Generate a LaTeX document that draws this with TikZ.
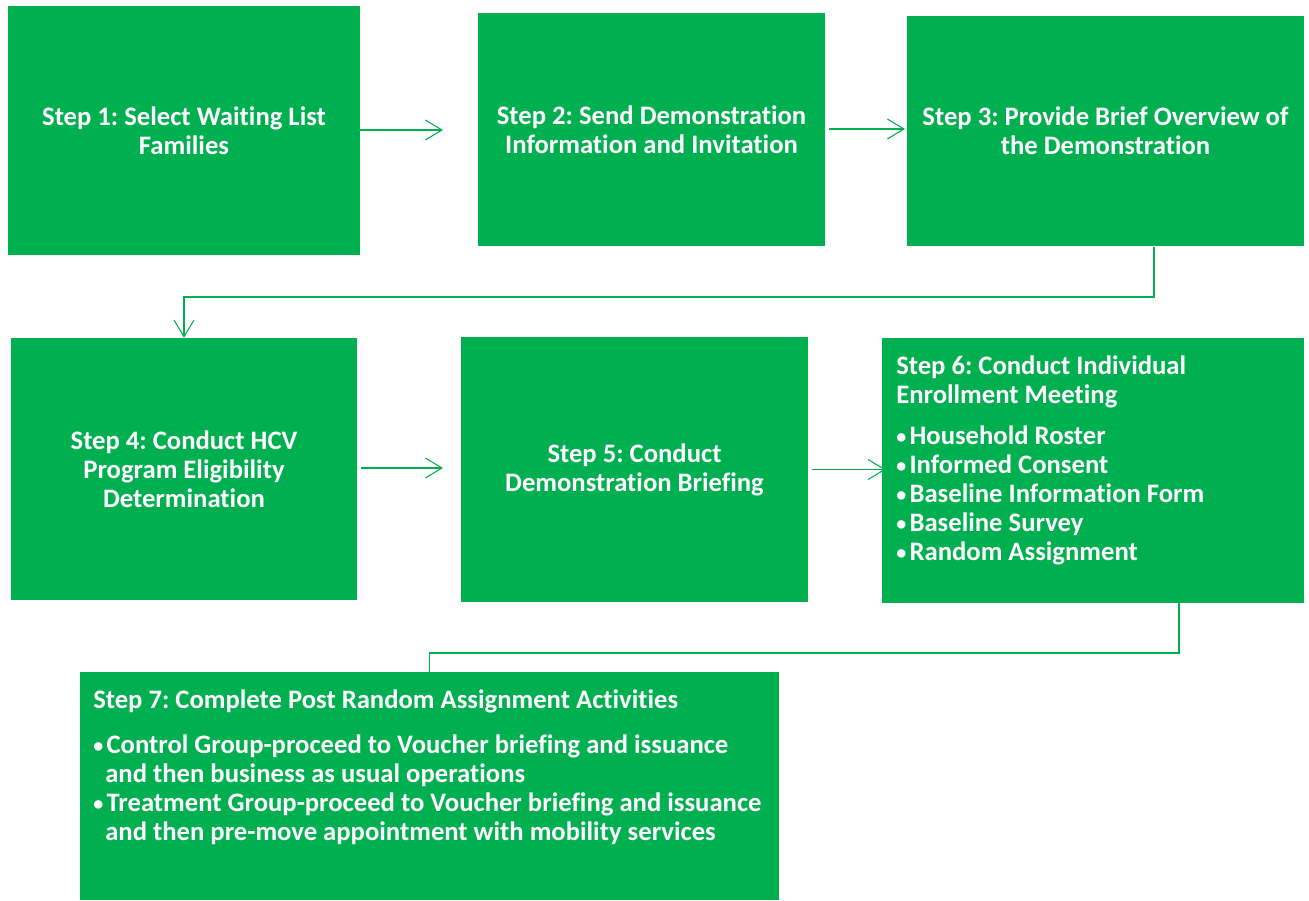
\documentclass[tikz,border=0pt]{standalone}
\usepackage{fontspec}
\setmainfont{Carlito}[Ligatures=NoCommon]
\frenchspacing
\usetikzlibrary{arrows.meta,fit}
\definecolor{stepgreen}{HTML}{00B050}
\pgfdeclarelayer{bg}
\pgfsetlayers{bg,main}
\newcommand\stepbul{\makebox[10pt][l]{\raisebox{0.5pt}{\fontsize{15}{15}\selectfont •}}}
\tikzset{
  stepbox/.style={fill=stepgreen, draw=none, inner sep=0pt},
  boxlabel/.style={text=white, font=\bfseries\fontsize{20}{21.75}\selectfont,
    align=center, inner sep=0pt},
  steptext/.style={text=white, font=\bfseries\fontsize{20}{21.75}\selectfont,
    align=left, inner sep=0pt, anchor=north west},
  flow/.style={draw=stepgreen, line width=0.8pt,
    -{Straight Barb[length=12.5pt,width=15pt,line width=0.8pt]}},
  flowline/.style={draw=stepgreen, line width=0.8pt}
}
\begin{document}
\begin{tikzpicture}[x=0.75pt,y=-0.75pt]
\useasboundingbox (0,0) rectangle (1309,900);
% boxes
\node[stepbox, fit={(8,6) (360,255)}] (s1) {};
\node[stepbox, fit={(478,13) (825,246)}] (s2) {};
\node[stepbox, fit={(907,16) (1304,246)}] (s3) {};
\node[stepbox, fit={(11,338) (357,600)}] (s4) {};
\node[stepbox, fit={(461,337) (808,602)}] (s5) {};
\node[stepbox, fit={(882,338) (1304,603)}] (s6) {};
\node[stepbox, fit={(80,672) (779,900)}] (s7) {};
% labels
\node[boxlabel] (t1) at (s1.center) {Step 1: Select Waiting List\\Families};
\node[boxlabel] (t2) at (s2.center) {Step 2: Send Demonstration\\Information and Invitation};
\node[boxlabel] (t3) at (s3.center) {Step 3: Provide Brief Overview of\\the Demonstration};
\node[boxlabel] (t4) at (s4.center) {Step 4: Conduct HCV\\Program Eligibility\\Determination};
\node[boxlabel] (t5) at (s5.center) {Step 5: Conduct\\Demonstration Briefing};
\node[steptext] (t6) at (896,355.5) {Step 6: Conduct Individual\\Enrollment Meeting\\[9pt]
  \stepbul Household Roster\\\stepbul Informed Consent\\\stepbul Baseline Information Form\\\stepbul Baseline Survey\\\stepbul Random Assignment};
\node[steptext] (t7) at (93,689.5) {Step 7: Complete Post Random Assignment Activities\\[12pt]
  \stepbul Control Group-proceed to Voucher briefing and issuance\\
  \hspace*{9pt}and then business as usual operations\\
  \stepbul Treatment Group-proceed to Voucher briefing and issuance\\
  \hspace*{9pt}and then pre-move appointment with mobility services};
% free ends
\coordinate (e12) at (443,130);
\coordinate (e23) at (905,129);
\coordinate (e45) at (443,468);
\coordinate (c3) at (1154,247);
\coordinate (c6) at (1179,603);
\begin{pgfonlayer}{bg}
\draw[flow] (s1.east |- e12) -- (e12);
\draw[flow] ([xshift=3]s2.east |- e23) -- (e23);
\draw[flow] (c3) -- ++(0,50) -| (s4.north);
\draw[flow] ([xshift=3]s4.east |- e45) -- (e45);
\draw[flow] ([xshift=3]s5.east) -- ([xshift=3]s6.west |- s5.east);
\draw[flowline] (c6) -- ++(0,50) -| (s7.north);
\end{pgfonlayer}
\end{tikzpicture}
\end{document}
